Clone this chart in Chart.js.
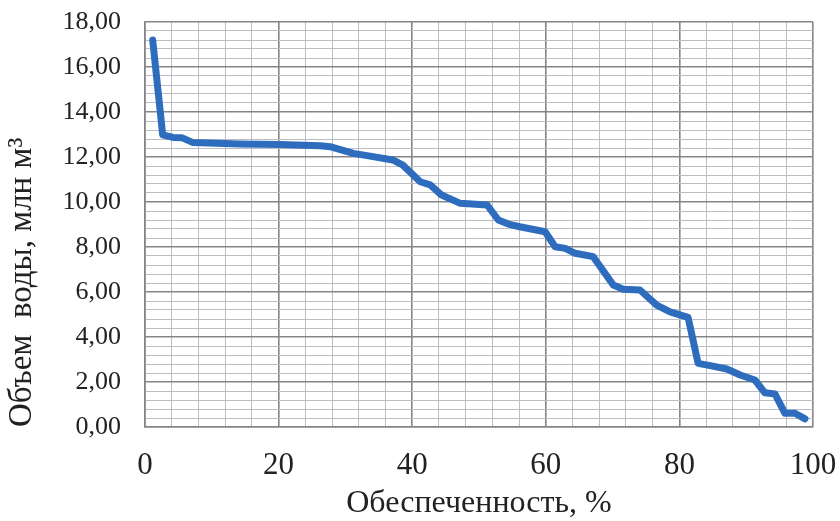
<!DOCTYPE html>
<html>
<head>
<meta charset="utf-8">
<script src="https://cdn.jsdelivr.net/npm/chart.js@4"></script>
<style>
  html, body { margin: 0; padding: 0; background: #ffffff; }
  #wrap { width: 840px; height: 521px; }
</style>
</head>
<body>
<div id="wrap"><canvas id="c" width="840" height="521"></canvas></div>
<script>
const xValues = [1.15, 2.65, 4.2, 5.5, 7.2, 14.2, 20.2, 26.2, 27.7, 31.2, 33.7, 36.2, 37.1, 38.6, 41.2, 42.7, 44.4, 47.2, 51.2, 52.9, 54.4, 56.1, 59.9, 61.4, 62.9, 64.4, 67.1, 70.1, 71.6, 74.1, 76.6, 78.6, 81.3, 82.8, 84.6, 87.1, 89.1, 91.3, 92.8, 94.3, 95.8, 97.3, 98.8];
const yValues = [17.2, 12.98, 12.87, 12.86, 12.64, 12.58, 12.56, 12.5, 12.46, 12.16, 12.04, 11.91, 11.87, 11.64, 10.9, 10.76, 10.31, 9.94, 9.87, 9.2, 9.02, 8.9, 8.68, 8.01, 7.94, 7.72, 7.57, 6.31, 6.12, 6.09, 5.42, 5.12, 4.87, 2.83, 2.73, 2.58, 2.31, 2.09, 1.52, 1.47, 0.61, 0.61, 0.36];
const xTickLabels = ['0', '20', '40', '60', '80', '100'];
const yTickLabels = ['0,00', '2,00', '4,00', '6,00', '8,00', '10,00', '12,00', '14,00', '16,00', '18,00'];
const xTitle = 'Обеспеченность, %';
const yTitle = 'Объем  воды, млн м³';

const points = xValues.map((x, i) => ({ x: x, y: yValues[i] }));

const MAJOR = '#858588';
const MINOR = '#bcbcc4';
const SERIF = '"Liberation Serif", "Times New Roman", serif';

new Chart(document.getElementById('c'), {
  type: 'scatter',
  data: {
    datasets: [{
      data: points,
      showLine: true,
      borderColor: '#2E6DBE',
      borderWidth: 7,
      pointRadius: 0,
      pointHoverRadius: 0,
      tension: 0,
      borderJoinStyle: 'round',
      borderCapStyle: 'round',
      fill: false
    }]
  },
  options: {
    responsive: false,
    animation: false,
    events: [],
    layout: { padding: { top: 22, right: 27, left: 0, bottom: 0 } },
    plugins: { legend: { display: false }, tooltip: { enabled: false } },
    scales: {
      x: {
        type: 'linear',
        min: 0, max: 100,
        afterFit: (s) => { s.height = 94; s.paddingLeft = 0; s.paddingRight = 0; },
        ticks: {
          stepSize: 4,
          autoSkip: false,
          maxRotation: 0,
          padding: 20,
          color: '#222',
          font: { family: SERIF, size: 31 },
          callback: (v) => {
            const r = Math.round(v);
            return r % 20 === 0 ? xTickLabels[r / 20] : '';
          }
        },
        grid: {
          drawTicks: false,
          color: (ctx) => (Math.round(ctx.tick.value) % 20 === 0 ? MAJOR : MINOR),
          lineWidth: (ctx) => (Math.round(ctx.tick.value) % 20 === 0 ? 1.6 : 1)
        },
        border: { display: true, color: MAJOR, width: 1.6 },
        title: {
          display: true,
          text: xTitle,
          color: '#222',
          font: { family: SERIF, size: 32 },
          padding: { top: 0, bottom: -2 }
        }
      },
      y: {
        type: 'linear',
        min: 0, max: 18,
        afterFit: (s) => { s.width = 145; s.paddingTop = 0; s.paddingBottom = 0; },
        ticks: {
          stepSize: 0.4,
          autoSkip: false,
          padding: 24,
          color: '#222',
          font: { family: SERIF, size: 26 },
          callback: (v) => {
            const r = Math.round(v * 10);
            return r % 20 === 0 ? yTickLabels[r / 20] : '';
          }
        },
        grid: {
          drawTicks: false,
          color: (ctx) => (Math.round(ctx.tick.value * 10) % 20 === 0 ? MAJOR : MINOR),
          lineWidth: (ctx) => (Math.round(ctx.tick.value * 10) % 20 === 0 ? 1.6 : 1)
        },
        border: { display: true, color: MAJOR, width: 1.6 },
        title: {
          display: true,
          text: yTitle,
          align: 'start',
          color: '#222',
          font: { family: SERIF, size: 33 },
          padding: { top: 3, bottom: 0 }
        }
      }
    }
  }
});
</script>
</body>
</html>
